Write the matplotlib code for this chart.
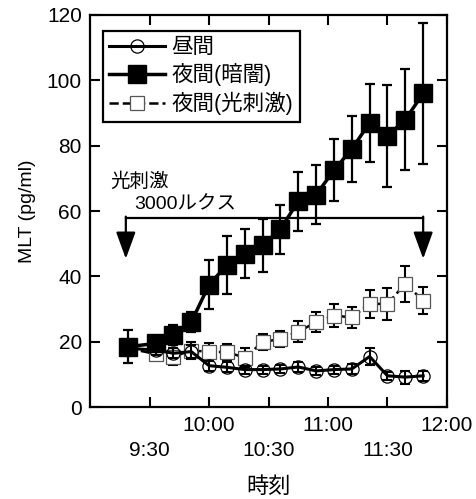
import matplotlib
matplotlib.use('Agg')
import matplotlib.pyplot as plt

plt.rcParams['font.family'] = ['Liberation Sans', 'Noto Sans CJK JP']

# minutes after 9:00
times = [19, 33, 42, 51, 60, 69, 78, 87, 96, 105, 114, 123, 132, 141, 150, 159, 168]

day = [18, 17.5, 16.5, 17, 12.7, 12.2, 11.5, 11.5, 11.7, 12.3, 11.1, 11.5, 11.7, 15.5, 9.6, 9.2, 9.6]
day_err = [1.5, 1.5, 1.5, 2, 1.5, 1.5, 1.2, 1.2, 1.2, 1.5, 1.2, 1.2, 1.5, 2.5, 1.2, 2, 1.5]

dark = [18.5, 19.5, 22, 26, 37.5, 43.5, 47, 49.5, 54.5, 63, 65, 72.5, 79, 87, 83, 88, 96]
dark_err = [5, 2, 3, 3, 7.5, 9, 7.5, 8, 7.5, 9, 9, 9.5, 10, 12, 15.5, 15.5, 21.5]

light = [18, 16.3, 15.5, 17.3, 17, 16.8, 15.2, 19.9, 20.9, 23.1, 26, 28, 27.5, 31.6, 31.6, 37.8, 32.6]
light_err = [2, 2, 2.5, 2.5, 2.5, 2.5, 3, 2.5, 2.5, 3.2, 3, 3.6, 3.3, 4.2, 5, 5.5, 4.1]

xticks = [30, 60, 90, 120, 150, 180]
xticklabels = ['\n9:30', '10:00', '\n10:30', '11:00', '\n11:30', '12:00']
yticks = [0, 20, 40, 60, 80, 100, 120]

fig, ax = plt.subplots(figsize=(4.77, 4.99), dpi=100)
fig.subplots_adjust(left=0.189, right=0.937, bottom=0.184, top=0.970)

# 光刺激 (light) series - dashed, open squares
ax.errorbar(times, light, yerr=light_err, fmt='none', ecolor='black',
            elinewidth=1.5, capsize=3.5, capthick=1.5, zorder=2)
ax.plot(times, light, linestyle='--', color='black', linewidth=1.8,
        marker='s', markersize=10, markerfacecolor='white',
        markeredgecolor='#555555', markeredgewidth=0.9, zorder=3,
        label='夜間(光刺激)')

# 昼間 (day) series - open circles
ax.errorbar(times, day, yerr=day_err, fmt='none', ecolor='black',
            elinewidth=1.5, capsize=3.5, capthick=1.5, zorder=4)
ax.plot(times, day, linestyle='-', color='black', linewidth=2.2,
        marker='o', markersize=9.5, markerfacecolor='none',
        markeredgecolor='black', markeredgewidth=0.9, zorder=5,
        label='昼間')

# 夜間(暗闇) (dark) series - filled squares
ax.errorbar(times, dark, yerr=dark_err, fmt='none', ecolor='black',
            elinewidth=1.6, capsize=3.5, capthick=1.6, zorder=6)
ax.plot(times, dark, linestyle='-', color='black', linewidth=2.5,
        marker='s', markersize=12.5, markerfacecolor='black',
        markeredgecolor='black', zorder=7,
        label='夜間(暗闇)')

# light-stimulus period arrows
x_on, x_off = 18, 168
ax.plot([x_on, x_off], [58, 58], color='black', linewidth=1.6, zorder=8)
for xa in (x_on, x_off):
    ax.annotate('', xy=(xa, 45.4), xytext=(xa, 58.3),
                arrowprops=dict(arrowstyle='-|>,head_length=1.65,head_width=0.6',
                                mutation_scale=10, color='black', lw=1.6,
                                shrinkA=0, shrinkB=0), zorder=8)
ax.text(10, 69, '光刺激', fontsize=14, ha='left', va='center')
ax.text(22, 62, '3000ルクス', fontsize=14, ha='left', va='center')

ax.set_xlim(0, 180)
ax.set_ylim(0, 120)
ax.set_xticks(xticks)
ax.set_xticklabels(xticklabels, fontsize=15, linespacing=1.45)
ax.set_yticks(yticks)
ax.tick_params(axis='y', labelsize=15)
ax.tick_params(direction='in', length=7, width=1.5, top=True, right=True, pad=6)

for sp in ax.spines.values():
    sp.set_linewidth(1.6)

ax.set_ylabel('MLT (pg/ml)', fontsize=14, labelpad=8)
ax.set_xlabel('時刻', fontsize=16, labelpad=12)

handles, labels = ax.get_legend_handles_labels()
order = [1, 2, 0]
leg = ax.legend([handles[i] for i in order], [labels[i] for i in order],
                loc='upper left', bbox_to_anchor=(0.035, 0.96), fontsize=15.5,
                handlelength=2.6, handletextpad=0.3, labelspacing=0.25,
                borderpad=0.3, fancybox=False, framealpha=1,
                edgecolor='black', borderaxespad=0)
leg.get_frame().set_linewidth(1.6)

fig.savefig('out.png', dpi=100)
